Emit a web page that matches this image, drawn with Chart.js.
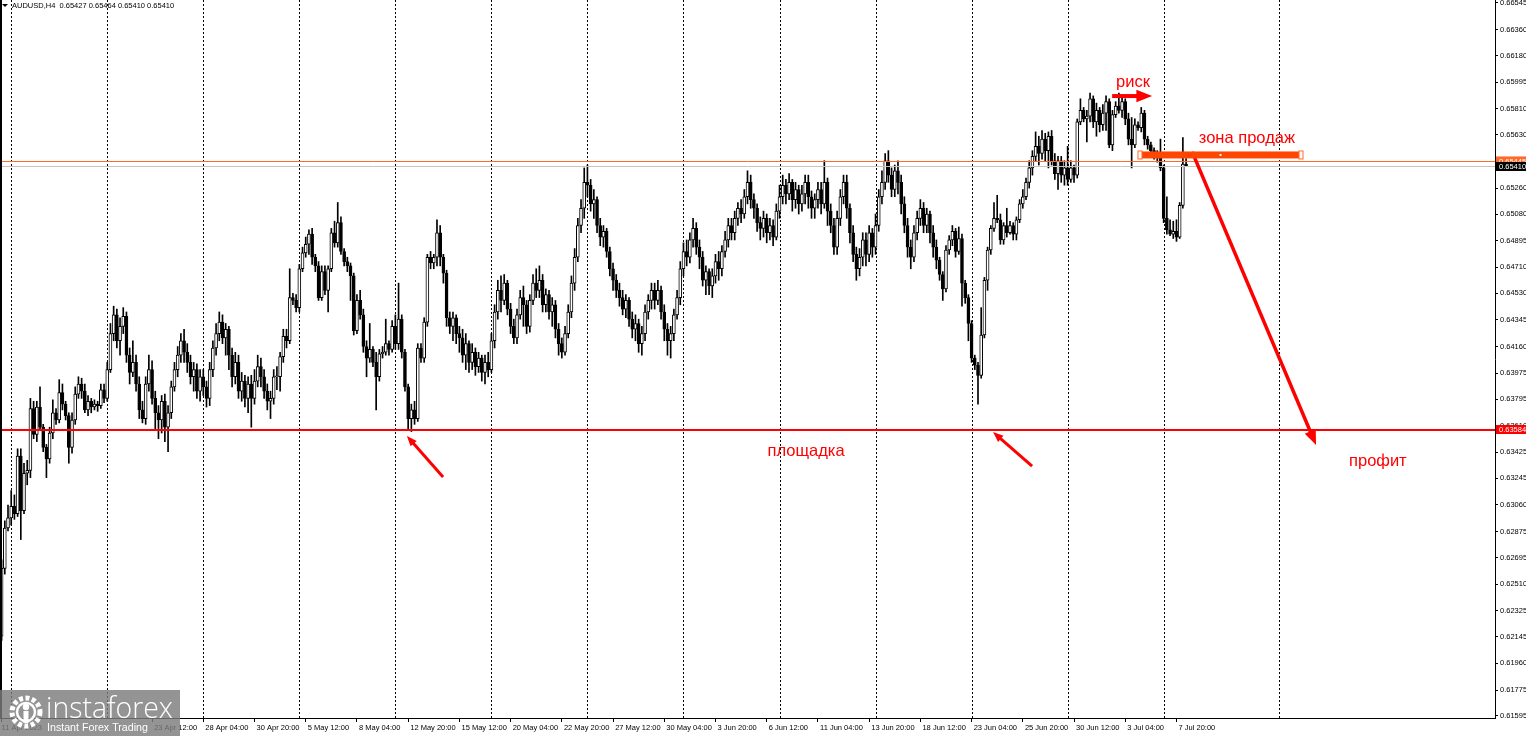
<!DOCTYPE html>
<html>
<head>
<meta charset="utf-8">
<script src="https://cdn.jsdelivr.net/npm/chart.js@4.4.1/dist/chart.umd.min.js"></script>
<style>
  html, body { margin: 0; padding: 0; background: #fff; overflow: hidden; }
</style>
</head>
<body>
<canvas id="graph" width="1526" height="736"></canvas>
<script>
// AUDUSD, H4 - prices x 10^4, the open of every bar is the close of the bar before
const firstOpen = 6215;

const closes = [
  6262,6290,6297,6305,6300,6340,6302,6328,6330,6373,
  6355,6374,6360,6346,6338,6356,6370,6365,6384,6376,
  6368,6346,6365,6383,6390,6385,6372,6378,6374,6376,
  6375,6386,6380,6400,6425,6438,6420,6430,6437,6410,
  6398,6405,6390,6372,6366,6390,6400,6380,6370,6365,
  6378,6360,6370,6388,6400,6410,6420,6412,6405,6395,
  6400,6385,6395,6388,6380,6400,6415,6425,6433,6422,
  6428,6410,6395,6405,6385,6392,6380,6390,6380,6392,
  6402,6395,6385,6378,6380,6395,6395,6409,6423,6420,
  6450,6448,6443,6470,6481,6487,6494,6478,6472,6450,
  6468,6455,6470,6495,6488,6502,6482,6475,6472,6465,
  6427,6448,6438,6416,6408,6414,6405,6395,6411,6412,
  6418,6414,6430,6418,6435,6412,6388,6366,6372,6366,
  6415,6408,6433,6478,6474,6478,6495,6478,6467,6436,
  6430,6436,6425,6422,6410,6418,6405,6412,6402,6408,
  6398,6405,6400,6420,6440,6455,6448,6460,6442,6430,
  6422,6438,6450,6445,6430,6448,6460,6455,6462,6445,
  6452,6440,6445,6428,6418,6412,6425,6440,6460,6478,
  6500,6512,6530,6528,6515,6518,6500,6492,6496,6482,
  6470,6462,6455,6450,6442,6448,6435,6428,6432,6418,
  6425,6440,6448,6455,6448,6455,6440,6428,6420,6425,
  6438,6450,6470,6482,6478,6490,6498,6485,6478,6462,
  6468,6458,6465,6475,6470,6482,6490,6500,6495,6505,
  6512,6508,6520,6530,6518,6512,6502,6498,6505,6495,
  6500,6492,6510,6520,6528,6522,6530,6518,6525,6515,
  6522,6530,6520,6512,6518,6525,6515,6530,6510,6500,
  6485,6505,6520,6530,6512,6495,6480,6470,6478,6490,
  6480,6495,6485,6500,6520,6530,6545,6535,6525,6538,
  6530,6515,6500,6485,6478,6495,6505,6512,6500,6508,
  6495,6485,6476,6466,6456,6483,6490,6496,6482,6491,
  6460,6450,6432,6408,6403,6396,6424,6462,6483,6498,
  6505,6504,6490,6500,6495,6500,6494,6504,6515,6520,
  6530,6540,6548,6555,6550,6560,6552,6562,6545,6536,
  6545,6535,6540,6532,6540,6535,6572,6580,6574,6576,
  6588,6572,6580,6570,6578,6586,6556,6577,6583,6580,
  6586,6574,6560,6556,6570,6568,6578,6560,6556,6552,
  6550,6548,6540,6505,6497,6494,6496,6492,6514,6542.7,
  6541
];

const highs = [
  6268,6295,6306,6316,6313,6345,6345,6335,6337,6380,
  6378,6378,6388,6362,6348,6360,6379,6373,6393,6390,
  6378,6370,6370,6388,6395,6394,6390,6382,6380,6379,
  6378,6390,6390,6405,6432,6444,6442,6436,6443,6440,
  6415,6420,6410,6395,6378,6395,6410,6406,6385,6375,
  6382,6383,6375,6392,6405,6416,6425,6428,6418,6410,
  6405,6404,6400,6400,6392,6405,6420,6432,6440,6438,
  6432,6430,6415,6412,6410,6398,6396,6395,6396,6400,
  6410,6408,6400,6390,6385,6400,6402,6412,6428,6428,
  6470,6453,6452,6473,6485,6492,6497,6498,6480,6475,
  6472,6472,6472,6498,6503,6516,6506,6484,6478,6474,
  6467,6452,6455,6442,6420,6432,6416,6412,6414,6416,
  6435,6420,6434,6438,6460,6438,6414,6390,6376,6378,
  6418,6418,6436,6480,6482,6480,6504,6500,6480,6469,
  6440,6440,6438,6430,6428,6425,6420,6418,6415,6412,
  6410,6410,6412,6425,6445,6462,6465,6466,6462,6446,
  6435,6442,6455,6458,6448,6452,6466,6470,6472,6466,
  6456,6455,6450,6448,6432,6422,6430,6445,6465,6484,
  6505,6518,6540,6542,6532,6525,6520,6505,6500,6498,
  6485,6474,6466,6460,6455,6452,6450,6440,6438,6435,
  6430,6445,6452,6460,6460,6462,6458,6445,6432,6430,
  6442,6455,6475,6488,6490,6495,6505,6502,6490,6482,
  6472,6470,6470,6480,6482,6486,6496,6505,6505,6510,
  6516,6518,6525,6538,6535,6522,6515,6506,6510,6508,
  6505,6504,6515,6528,6535,6532,6536,6532,6530,6528,
  6528,6535,6535,6524,6522,6530,6530,6545,6533,6515,
  6505,6510,6525,6535,6535,6515,6500,6485,6484,6495,
  6495,6500,6498,6508,6525,6538,6550,6552,6540,6542,
  6545,6535,6520,6505,6490,6500,6510,6518,6516,6512,
  6510,6500,6490,6478,6468,6486,6493,6500,6498,6499,
  6494,6462,6452,6434,6410,6405,6443,6464,6485,6500,
  6516,6521,6508,6502,6512,6503,6502,6506,6518,6525,
  6533,6545,6552,6565,6562,6566,6564,6565,6566,6550,
  6548,6548,6545,6555,6545,6542,6574,6588,6582,6580,
  6592,6590,6585,6582,6584,6590,6588,6580,6586,6592,
  6590,6588,6578,6575,6574,6572,6582,6580,6562,6558,
  6554,6552,6560,6542,6520,6504,6503,6504,6516,6561,
  6546.4
];

const lows = [
  6212,6258,6288,6292,6296,6298,6282,6300,6320,6325,
  6352,6350,6358,6343,6325,6335,6352,6362,6363,6372,
  6365,6335,6342,6362,6380,6380,6370,6368,6370,6372,
  6371,6373,6377,6378,6398,6420,6415,6410,6425,6405,
  6390,6395,6385,6366,6363,6362,6385,6376,6358,6352,
  6356,6350,6343,6366,6385,6395,6405,6405,6398,6390,
  6385,6380,6378,6382,6374,6375,6395,6410,6420,6418,
  6410,6400,6388,6390,6380,6378,6374,6370,6360,6376,
  6388,6388,6380,6372,6366,6376,6386,6385,6405,6415,
  6418,6445,6440,6440,6468,6478,6480,6473,6468,6448,
  6448,6452,6440,6468,6485,6485,6480,6472,6468,6448,
  6424,6425,6435,6412,6395,6405,6402,6372,6392,6408,
  6410,6410,6412,6414,6414,6408,6385,6358,6357,6362,
  6364,6405,6405,6430,6470,6470,6472,6472,6460,6430,
  6425,6420,6418,6412,6405,6400,6398,6400,6396,6398,
  6392,6390,6395,6398,6415,6435,6440,6445,6438,6425,
  6418,6418,6435,6430,6425,6426,6445,6450,6450,6440,
  6440,6435,6430,6422,6410,6408,6410,6422,6436,6455,
  6475,6495,6505,6520,6510,6505,6495,6486,6485,6478,
  6465,6455,6450,6444,6438,6436,6430,6422,6420,6412,
  6410,6420,6435,6442,6442,6445,6435,6420,6410,6408,
  6420,6435,6445,6465,6472,6474,6485,6480,6470,6458,
  6452,6452,6450,6460,6462,6465,6478,6485,6490,6490,
  6500,6502,6505,6515,6512,6505,6496,6490,6492,6488,
  6490,6486,6490,6505,6515,6515,6518,6510,6512,6508,
  6510,6515,6512,6505,6505,6512,6508,6512,6500,6495,
  6480,6480,6500,6515,6505,6488,6475,6462,6465,6472,
  6472,6475,6478,6480,6496,6515,6525,6530,6520,6520,
  6522,6508,6495,6478,6470,6475,6490,6500,6495,6495,
  6488,6478,6470,6462,6448,6454,6480,6486,6478,6480,
  6444,6446,6420,6405,6400,6376,6394,6422,6455,6480,
  6496,6502,6487,6487,6492,6494,6490,6490,6502,6512,
  6518,6526,6535,6545,6542,6546,6545,6540,6542,6532,
  6525,6530,6528,6528,6530,6530,6533,6570,6572,6558,
  6572,6568,6562,6565,6566,6566,6554,6552,6575,6578,
  6575,6570,6556,6540,6554,6566,6565,6556,6553,6549,
  6546,6544,6538,6502,6494,6493,6491,6489,6491,6512,
  6541
];

// time axis: 467 bar slots (the right part is empty future space)
const slotCount = 467;
const tickIdx = [0, 47, 63, 79, 95, 111, 127, 143, 159, 175, 191, 207, 223, 239, 255, 271, 287, 303, 319, 335, 351, 367];
const tickTxt = ['11 Apr 2023', '23 Apr 12:00', '28 Apr 04:00', '30 Apr 20:00', '5 May 12:00', '8 May 04:00',
  '12 May 20:00', '15 May 12:00', '20 May 04:00', '22 May 20:00', '27 May 12:00', '30 May 04:00',
  '3 Jun 20:00', '6 Jun 12:00', '11 Jun 04:00', '13 Jun 20:00', '18 Jun 12:00', '23 Jun 04:00',
  '25 Jun 20:00', '30 Jun 12:00', '3 Jul 04:00', '7 Jul 20:00'];
const weekIdx = [3, 33, 63, 93, 123, 153, 183, 213, 243, 273, 303, 333, 363, 399];

const yTicks = [0.66545, 0.66360, 0.66180, 0.65995, 0.65810, 0.65630, 0.65445, 0.65260, 0.65080, 0.64895,
  0.64710, 0.64530, 0.64345, 0.64160, 0.63975, 0.63795, 0.63610, 0.63425, 0.63245, 0.63060,
  0.62875, 0.62695, 0.62510, 0.62325, 0.62145, 0.61960, 0.61775, 0.61595];
const yMin = 0.615811, yMax = 0.665658;

const zoneLevel = 0.65445;   // orange line
const lastPrice = 0.65410;   // grey bid line
const baseLevel = 0.63584;   // red "площадка" line

// hand drawn marks, in (bar index, price)
const notes = {
  risk:   { text: 'риск', at: [353.4, 0.65990], arrow: [346.9, 0.65899, 359.4, 0.65899] },
  zone:   { text: 'зона продаж', at: [389, 0.65608], bar: [355.6, 405.9, 0.65490] },
  profit: { text: 'профит', at: [429.9, 0.63365], arrow: [371.9, 0.65511, 410.6, 0.63476] },
  base:   { text: 'площадка', at: [251.3, 0.63435] },
  pointers: [[137.9, 0.63254, 126.6, 0.63539], [321.9, 0.63330, 309.7, 0.63566]]
};

// ---- build the chart data ----
const labels = Array.from({ length: slotCount }, (_, i) => i);
const tickMap = {};
tickIdx.forEach((i, k) => { tickMap[i] = tickTxt[k]; });

const opens = closes.map((c, i) => (i === 0 ? firstOpen : closes[i - 1]));
const bodyData = closes.map((c, i) => [opens[i] / 1e4, c / 1e4]);
const wickData = closes.map((c, i) => [Math.min(lows[i], opens[i], c) / 1e4, Math.max(highs[i], opens[i], c) / 1e4]);
const bodyColors = closes.map((c, i) => (c >= opens[i] ? '#ffffff' : '#000000'));

const RED = '#ff0000';

function arrow(ctx, x1, y1, x2, y2, w, head) {
  const a = Math.atan2(y2 - y1, x2 - x1);
  ctx.lineWidth = w;
  ctx.beginPath();
  ctx.moveTo(x1, y1);
  ctx.lineTo(x2 - Math.cos(a) * head * 0.7, y2 - Math.sin(a) * head * 0.7);
  ctx.stroke();
  ctx.beginPath();
  ctx.moveTo(x2, y2);
  ctx.lineTo(x2 - head * Math.cos(a - 0.38), y2 - head * Math.sin(a - 0.38));
  ctx.lineTo(x2 - head * Math.cos(a + 0.38), y2 - head * Math.sin(a + 0.38));
  ctx.closePath();
  ctx.fill();
}

function fitText(ctx, text, x, y, width, weight, family) {
  let size = 40;
  ctx.font = `${weight} ${size}px ${family}`;
  size = size * width / ctx.measureText(text).width;
  ctx.font = `${weight} ${size}px ${family}`;
  ctx.fillText(text, x, y);
}

const overlay = {
  id: 'overlay',
  beforeDatasetsDraw(chart) {
    const { ctx, chartArea: a, scales: { x } } = chart;
    ctx.save();
    ctx.strokeStyle = '#000';
    ctx.lineWidth = 1;
    ctx.setLineDash([2, 2]);
    weekIdx.forEach(i => {
      const px = Math.round(x.getPixelForValue(i)) + 0.5;
      ctx.beginPath();
      ctx.moveTo(px, a.top);
      ctx.lineTo(px, a.bottom);
      ctx.stroke();
    });
    ctx.restore();
  },
  afterDraw(chart) {
    const { ctx, chartArea: a, scales: { x, y } } = chart;
    const X = i => x.getPixelForValue(i);
    const Y = p => y.getPixelForValue(p);
    ctx.save();

    // horizontal levels
    const hline = (p, color, w) => {
      const py = w % 2 ? Math.round(Y(p)) + 0.5 : Math.round(Y(p));
      ctx.strokeStyle = color; ctx.lineWidth = w;
      ctx.beginPath(); ctx.moveTo(a.left, py); ctx.lineTo(a.right, py); ctx.stroke();
    };
    hline(lastPrice, '#c4c4c4', 1);
    hline(zoneLevel, '#ff6a2a', 1);
    hline(baseLevel, RED, 2);

    // left frame line
    ctx.strokeStyle = '#000'; ctx.lineWidth = 2;
    ctx.beginPath(); ctx.moveTo(1, a.top); ctx.lineTo(1, a.bottom); ctx.stroke();

    // price tags on the axis
    const tag = (p, bg, fg, h) => {
      const py = Y(p);
      ctx.fillStyle = bg;
      ctx.fillRect(a.right + 1, py - h / 2, 40, h);
      ctx.fillStyle = fg;
      ctx.font = '7.5px "Liberation Sans"';
      ctx.textAlign = 'left'; ctx.textBaseline = 'middle';
      ctx.fillText(p.toFixed(5), a.right + 4, py + 0.5);
    };
    tag(zoneLevel, '#ff6a2a', '#fff', 10);
    tag(lastPrice, '#000', '#fff', 9);
    tag(baseLevel, RED, '#fff', 9);

    // red marks
    ctx.fillStyle = RED; ctx.strokeStyle = RED; ctx.lineCap = 'butt';
    const r = notes.risk.arrow;
    arrow(ctx, X(r[0]), Y(r[1]), X(r[2]), Y(r[3]), 4, 17);
    const pr = notes.profit.arrow;
    arrow(ctx, X(pr[0]), Y(pr[1]), X(pr[2]), Y(pr[3]), 3.5, 16);
    notes.pointers.forEach(q => arrow(ctx, X(q[0]), Y(q[1]), X(q[2]), Y(q[3]), 3, 11));

    // sell zone bar
    const z = notes.zone.bar;
    const zx1 = X(z[0]), zx2 = X(z[1]), zy = Y(z[2]);
    ctx.fillStyle = '#ff4500';
    ctx.fillRect(zx1, zy - 3.5, zx2 - zx1, 7);
    ctx.strokeStyle = '#ff6a2a'; ctx.lineWidth = 1; ctx.fillStyle = '#fff';
    [zx1, zx2].forEach(px => {
      ctx.fillRect(px - 2, zy - 4, 4, 8);
      ctx.strokeRect(px - 2, zy - 4, 4, 8);
    });
    ctx.fillRect((zx1 + zx2) / 2 - 1, zy - 1, 2, 2);

    // texts
    ctx.fillStyle = RED;
    ctx.font = '16.5px "Liberation Sans"';
    ctx.textAlign = 'center'; ctx.textBaseline = 'middle';
    [notes.risk, notes.zone, notes.profit, notes.base].forEach(n => {
      ctx.fillText(n.text, X(n.at[0]), Y(n.at[1]));
    });

    // header
    ctx.fillStyle = '#000';
    ctx.beginPath(); ctx.moveTo(2, 4); ctx.lineTo(8, 4); ctx.lineTo(5, 7); ctx.closePath(); ctx.fill();
    ctx.font = '7.5px "Liberation Sans"';
    ctx.textAlign = 'left'; ctx.textBaseline = 'middle';
    ctx.fillText('AUDUSD,H4  0.65427 0.65464 0.65410 0.65410', 12, 5.5);

    // watermark logo
    ctx.globalAlpha = 0.82;
    ctx.fillStyle = '#7d7d7d';
    ctx.fillRect(0, 690, 180, 46);
    ctx.globalAlpha = 1;
    ctx.strokeStyle = '#fff'; ctx.fillStyle = '#fff';
    ctx.lineWidth = 5; ctx.setLineDash([4, 2.5]);
    ctx.beginPath(); ctx.arc(26, 712, 14, 0, Math.PI * 2); ctx.stroke();
    ctx.setLineDash([]);
    ctx.lineWidth = 2.5;
    ctx.beginPath(); ctx.arc(26, 712, 9, 0, Math.PI * 2); ctx.stroke();
    ctx.beginPath(); ctx.arc(26, 707, 3.2, 0, Math.PI * 2); ctx.fill();
    ctx.fillRect(23.5, 711, 5, 12);
    ctx.textAlign = 'left'; ctx.textBaseline = 'alphabetic';
    fitText(ctx, 'instaforex', 46, 718, 127, '300', '"Open Sans"');
    fitText(ctx, 'Instant Forex Trading', 47, 731, 101, '400', '"Liberation Sans"');

    ctx.restore();
  }
};

new Chart(document.getElementById('graph'), {
  type: 'bar',
  data: {
    labels: labels,
    datasets: [
      {
        label: 'body',
        data: bodyData,
        backgroundColor: bodyColors,
        borderColor: '#000',
        borderWidth: 1,
        borderSkipped: false,
        barThickness: 3,
        minBarLength: 1,
        grouped: false,
        order: 0
      },
      {
        label: 'wick',
        data: wickData,
        backgroundColor: '#000',
        borderWidth: 0,
        barThickness: 1,
        grouped: false,
        order: 1
      }
    ]
  },
  options: {
    responsive: false,
    animation: false,
    events: [],
    layout: { padding: 0 },
    plugins: { legend: { display: false }, tooltip: { enabled: false } },
    scales: {
      x: {
        type: 'category',
        offset: true,
        afterFit: s => { s.height = 18; s.paddingLeft = 0; s.paddingRight = 0; },
        ticks: {
          autoSkip: false, maxRotation: 0, minRotation: 0, align: 'start', padding: 1,
          color: '#000', font: { family: 'Liberation Sans', size: 7.5 },
          callback: (v, i) => (tickMap[i] === undefined ? '' : (i === 0 ? '' : ' ') + tickMap[i])
        },
        grid: {
          offset: false, drawOnChartArea: false, tickLength: 4,
          color: 'rgba(0,0,0,0)',
          tickColor: c => (tickMap[c.index] === undefined ? 'rgba(0,0,0,0)' : '#000')
        },
        border: { color: '#000', width: 1 }
      },
      y: {
        position: 'right',
        min: yMin,
        max: yMax,
        afterBuildTicks: s => { s.ticks = yTicks.map(v => ({ value: v })); },
        afterFit: s => { s.width = 31; s.paddingTop = 0; s.paddingBottom = 0; },
        ticks: {
          autoSkip: false, padding: 2, color: '#000',
          font: { family: 'Liberation Sans', size: 7.5 },
          callback: v => Number(v).toFixed(5)
        },
        grid: { drawOnChartArea: false, tickLength: 3, color: '#000', tickColor: '#000' },
        border: { color: '#000', width: 1 }
      }
    }
  },
  plugins: [overlay]
});
</script>
</body>
</html>
